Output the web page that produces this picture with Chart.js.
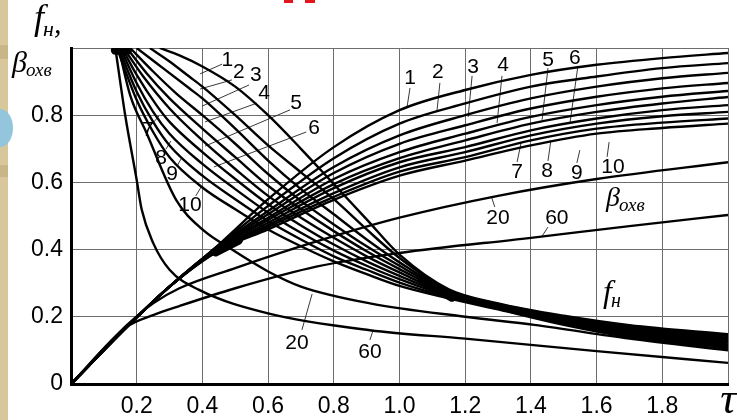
<!DOCTYPE html>
<html>
<head>
<meta charset="utf-8">
<script src="https://cdn.jsdelivr.net/npm/chart.js@4.4.1/dist/chart.umd.min.js"></script>
<style>
  html, body { margin: 0; padding: 0; background: #fff; }
</style>
</head>
<body>
<canvas id="myChart" width="737" height="420"></canvas>
<script>
// f_H curves 1..10 (falling) as [tau, value]
const fH1 = [[0.27,1.0],[0.33,0.978],[0.4,0.945],[0.5,0.885],[0.6,0.80],[0.7,0.70],[0.8,0.595],[0.9,0.49],[1.0,0.385],[1.15,0.282],[1.3,0.24],[1.5,0.203],[1.7,0.175],[2.0,0.148]];
const fH2 = [[0.24,1.0],[0.3,0.96],[0.36,0.915],[0.4,0.885],[0.5,0.80],[0.6,0.71],[0.7,0.63],[0.8,0.55],[0.9,0.46],[1.0,0.375],[1.15,0.279],[1.3,0.238],[1.5,0.2],[1.7,0.171],[2.0,0.143]];
const fH3 = [[0.2,1.0],[0.28,0.94],[0.36,0.88],[0.4,0.85],[0.5,0.76],[0.6,0.665],[0.7,0.58],[0.8,0.505],[0.9,0.43],[1.0,0.362],[1.15,0.276],[1.3,0.236],[1.5,0.197],[1.7,0.167],[2.0,0.138]];
const fH4 = [[0.18,1.0],[0.25,0.93],[0.32,0.865],[0.4,0.80],[0.5,0.715],[0.6,0.625],[0.7,0.545],[0.8,0.475],[0.9,0.41],[1.0,0.352],[1.15,0.273],[1.3,0.234],[1.5,0.194],[1.7,0.163],[2.0,0.133]];
const fH5 = [[0.17,1.0],[0.23,0.925],[0.3,0.85],[0.4,0.76],[0.5,0.675],[0.6,0.59],[0.7,0.52],[0.8,0.455],[0.9,0.395],[1.0,0.342],[1.15,0.27],[1.3,0.232],[1.5,0.191],[1.7,0.159],[2.0,0.128]];
const fH6 = [[0.16,1.0],[0.22,0.915],[0.3,0.82],[0.4,0.725],[0.5,0.64],[0.6,0.56],[0.7,0.495],[0.8,0.435],[0.9,0.38],[1.0,0.332],[1.15,0.267],[1.3,0.23],[1.5,0.188],[1.7,0.155],[2.0,0.123]];
const fH7 = [[0.155,1.0],[0.2,0.92],[0.26,0.83],[0.3,0.78],[0.4,0.69],[0.5,0.61],[0.6,0.535],[0.7,0.472],[0.8,0.415],[0.9,0.365],[1.0,0.322],[1.15,0.264],[1.3,0.228],[1.5,0.185],[1.7,0.151],[2.0,0.118]];
const fH8 = [[0.15,1.0],[0.2,0.895],[0.25,0.81],[0.3,0.745],[0.4,0.655],[0.5,0.58],[0.6,0.51],[0.7,0.45],[0.8,0.397],[0.9,0.352],[1.0,0.312],[1.15,0.261],[1.3,0.226],[1.5,0.182],[1.7,0.147],[2.0,0.113]];
const fH9 = [[0.145,1.0],[0.2,0.87],[0.25,0.78],[0.3,0.71],[0.4,0.62],[0.5,0.55],[0.6,0.485],[0.7,0.43],[0.8,0.38],[0.9,0.34],[1.0,0.302],[1.15,0.258],[1.3,0.224],[1.5,0.179],[1.7,0.143],[2.0,0.108]];
const fH10 = [[0.14,1.0],[0.2,0.845],[0.25,0.75],[0.3,0.675],[0.4,0.585],[0.5,0.52],[0.6,0.46],[0.7,0.41],[0.8,0.365],[0.9,0.327],[1.0,0.292],[1.15,0.255],[1.3,0.222],[1.5,0.176],[1.7,0.139],[2.0,0.103]];
const fH20 = [[0.145,1.0],[0.18,0.86],[0.23,0.747],[0.32,0.548],[0.4,0.46],[0.49,0.40],[0.6,0.335],[0.7,0.29],[0.91,0.24],[1.2,0.2],[1.41,0.176],[1.7,0.135],[2.0,0.10]];
const fH60 = [[0.135,1.0],[0.165,0.8],[0.2,0.607],[0.215,0.52],[0.25,0.42],[0.3,0.34],[0.39,0.28],[0.6,0.21],[0.91,0.16],[1.2,0.135],[1.6,0.098],[2.0,0.063]];

// beta curves 1..10 (rising) share these tau values
const betaX = [0, 0.17, 0.3, 0.45, 0.6, 0.8, 1.0, 1.2, 1.4, 1.6, 1.8, 2.0];
const beta1 = [0, 0.17, 0.29, 0.415, 0.55, 0.705, 0.815, 0.875, 0.92, 0.95, 0.97, 0.985];
const beta2 = [0, 0.17, 0.29, 0.413, 0.53, 0.672, 0.775, 0.835, 0.885, 0.915, 0.94, 0.955];
const beta3 = [0, 0.17, 0.29, 0.411, 0.515, 0.646, 0.74, 0.80, 0.85, 0.885, 0.91, 0.926];
const beta4 = [0, 0.17, 0.29, 0.409, 0.505, 0.628, 0.715, 0.77, 0.82, 0.855, 0.88, 0.896];
const beta5 = [0, 0.17, 0.29, 0.407, 0.495, 0.61, 0.69, 0.745, 0.795, 0.83, 0.855, 0.872];
const beta6 = [0, 0.17, 0.29, 0.405, 0.488, 0.595, 0.672, 0.725, 0.775, 0.81, 0.835, 0.854];
const beta7 = [0, 0.17, 0.29, 0.403, 0.48, 0.583, 0.66, 0.705, 0.755, 0.79, 0.815, 0.83];
const beta8 = [0, 0.17, 0.29, 0.401, 0.473, 0.568, 0.645, 0.69, 0.74, 0.775, 0.797, 0.81];
const beta9 = [0, 0.17, 0.29, 0.399, 0.467, 0.557, 0.632, 0.675, 0.725, 0.76, 0.778, 0.79];
const beta10 = [0, 0.17, 0.29, 0.397, 0.46, 0.548, 0.62, 0.665, 0.71, 0.745, 0.762, 0.775];
const beta20 = [[0,0],[0.17,0.175],[0.25,0.24],[0.33,0.285],[0.5,0.345],[0.75,0.425],[1.0,0.495],[1.3,0.56],[1.6,0.61],[2.0,0.66]];
const beta60 = [[0,0],[0.17,0.17],[0.25,0.205],[0.33,0.232],[0.5,0.285],[0.75,0.35],[1.0,0.39],[1.4,0.435],[1.7,0.47],[2.0,0.503]];

// thick knots where the families bunch together
const knotTop = [[0.135,0.993],[0.172,0.993]];
const knotBeta = [[0.44,0.393],[0.51,0.428]];
const knotF = [[1.07,0.31],[1.16,0.258]];

// curve numbers and their leader lines
const fTags = ['1','2','3','4','5','6','7','8','9','10'];
const fTagAt = [[0.476,0.964],[0.511,0.929],[0.563,0.920],[0.588,0.866],[0.685,0.836],[0.740,0.762],[0.234,0.756],[0.274,0.673],[0.308,0.625],[0.362,0.533]];
const fLeaders = [
  [[0.460,0.952],[0.393,0.923]], [[0.490,0.905],[0.393,0.878]], [[0.542,0.890],[0.399,0.827]],
  [[0.566,0.836],[0.408,0.780]], [[0.667,0.816],[0.408,0.708]], [[0.716,0.750],[0.435,0.646]],
  [[0.247,0.774],[0.268,0.798]], [[0.289,0.699],[0.304,0.723]], [[0.323,0.649],[0.335,0.670]],
  [[0.380,0.560],[0.396,0.586]]
];
const bTags = ['1','2','3','4','5','6','7','8','9','10'];
const bTagAt = [[1.032,0.911],[1.117,0.929],[1.224,0.943],[1.315,0.949],[1.452,0.964],[1.534,0.970],[1.358,0.631],[1.449,0.634],[1.540,0.628],[1.650,0.646]];
const bLeaders = [
  [[1.032,0.881],[1.023,0.824]], [[1.123,0.896],[1.114,0.812]], [[1.221,0.917],[1.209,0.795]],
  [[1.312,0.917],[1.297,0.777]], [[1.452,0.940],[1.434,0.786]], [[1.543,0.946],[1.519,0.777]],
  [[1.358,0.661],[1.370,0.717]], [[1.452,0.664],[1.461,0.726]], [[1.540,0.658],[1.549,0.696]],
  [[1.632,0.676],[1.638,0.720]]
];
const extraTags = ['20','60','20','60'];
const extraTagAt = [[1.30,0.494],[1.479,0.494],[0.688,0.122],[0.91,0.095]];
const extraLeaders = [
  [[1.29,0.527],[1.28,0.557]], [[1.452,0.467],[1.434,0.44]],
  [[0.703,0.161],[0.734,0.268]], [[0.91,0.131],[0.919,0.158]]
];

const xTicks = [0.2, 0.4, 0.6, 0.8, 1.0, 1.2, 1.4, 1.6, 1.8];
const yTicks = [0, 0.2, 0.4, 0.6, 0.8];

const toXY = pts => pts.map(p => ({ x: p[0], y: p[1] }));

function curve(pts, w) {
  return {
    data: toXY(pts),
    showLine: true,
    borderColor: "#000",
    borderWidth: w,
    pointRadius: 0,
    fill: false,
    cubicInterpolationMode: "monotone",
  };
}

function knot(pts) {
  return {
    data: toXY(pts),
    showLine: true,
    borderColor: "#000",
    borderWidth: 9,
    borderCapStyle: "round",
    pointRadius: 0,
    tension: 0,
  };
}

function leader(pts) {
  return {
    data: toXY(pts),
    showLine: true,
    borderColor: "#222",
    borderWidth: 0.9,
    pointRadius: 0,
    tension: 0,
    clip: false,
  };
}

const datasets = [];
[fH1, fH2, fH3, fH4, fH5, fH6, fH7, fH8, fH9, fH10, fH20, fH60].forEach(c => datasets.push(curve(c, 2.4)));
[beta1, beta2, beta3, beta4, beta5, beta6, beta7, beta8, beta9, beta10].forEach(v =>
  datasets.push(curve(betaX.map((x, i) => [x, v[i]]), 2.4))
);
datasets.push(curve(beta20, 2.4));
datasets.push(curve(beta60, 2.4));
[knotTop, knotBeta, knotF].forEach(k => datasets.push(knot(k)));
[...fLeaders, ...bLeaders, ...extraLeaders].forEach(l => datasets.push(leader(l)));

// text with a lowered index, e.g. f with н
function withIndex(c, x, y, main, idx, mainFont, idxFont, drop) {
  c.font = mainFont;
  c.fillText(main, x, y);
  const w = c.measureText(main).width;
  c.font = idxFont;
  c.fillText(idx, x + w - 1, y + drop);
  return x + w - 1 + c.measureText(idx).width;
}

const paper = {
  id: "paper",
  beforeDraw(chart) {
    const c = chart.ctx;
    c.save();
    c.fillStyle = "#fff";
    c.fillRect(0, 0, chart.width, chart.height);
    // edge of the slide behind the picture
    c.fillStyle = "#d8c79b";
    c.fillRect(0, 0, 8, chart.height);
    c.fillStyle = "#c9b688";
    c.fillRect(0, 45, 8, 14);
    c.fillRect(0, 165, 8, 12);
    c.fillStyle = "#93c6dd";
    c.beginPath();
    c.ellipse(0, 128, 13, 19, 0, 0, Math.PI * 2);
    c.fill();
    // bottom of the red heading above
    c.fillStyle = "#e3161b";
    c.fillRect(284, 0, 9, 3);
    c.fillRect(305, 0, 10, 3);
    c.restore();
  },
  afterDraw(chart) {
    const c = chart.ctx;
    const sx = chart.scales.x, sy = chart.scales.y;
    const px = p => [sx.getPixelForValue(p[0]), sy.getPixelForValue(p[1])];
    c.save();
    c.fillStyle = "#000";
    c.textAlign = "center";
    c.textBaseline = "middle";
    c.font = '21px "Liberation Sans", Arial, sans-serif';
    fTags.forEach((t, i) => { const [x, y] = px(fTagAt[i]); c.fillText(t, x, y); });
    bTags.forEach((t, i) => { const [x, y] = px(bTagAt[i]); c.fillText(t, x, y); });
    extraTags.forEach((t, i) => { const [x, y] = px(extraTagAt[i]); c.fillText(t, x, y); });

    c.textAlign = "left";
    c.textBaseline = "alphabetic";
    const serifI = s => "italic " + s + 'px "Liberation Serif", "DejaVu Serif", serif';
    // axis title
    const e = withIndex(c, 34, 29, "f", "н", serifI(36), serifI(22), 7);
    c.font = serifI(30);
    c.fillText(",", e, 33);
    withIndex(c, 12, 72, "β", "охв", serifI(30), serifI(19), 4);
    // curve family names
    withIndex(c, 606, 206, "β", "охв", serifI(28), serifI(19), 5);
    withIndex(c, 603, 302, "f", "н", serifI(32), serifI(20), 5);
    // tau at the end of the axis
    c.textAlign = "center";
    c.font = serifI(44);
    c.fillText("τ", sx.getPixelForValue(2.0), 413);
    c.restore();
  },
};

const ctx = document.getElementById("myChart");

new Chart(ctx, {
  type: "scatter",
  data: { datasets: datasets },
  options: {
    responsive: false,
    animation: false,
    events: [],
    layout: { padding: { top: 48, right: 9, left: 0, bottom: 0 } },
    plugins: { legend: { display: false }, tooltip: { enabled: false } },
    scales: {
      x: {
        type: "linear",
        min: 0,
        max: 2,
        afterFit: s => { s.height = 36; },
        afterBuildTicks: s => { s.ticks = [0, ...xTicks, 2].map(v => ({ value: v })); },
        ticks: {
          color: "#000",
          padding: 9,
          maxRotation: 0,
          autoSkip: false,
          font: { family: '"Liberation Sans", Arial, sans-serif', size: 23 },
          callback: v => (xTicks.includes(v) ? v.toFixed(1) : ""),
        },
        grid: { color: "#6d6d6d", lineWidth: 1, drawTicks: false },
        border: { color: "#000", width: 3 },
      },
      y: {
        min: 0,
        max: 1,
        afterFit: s => { s.width = 71; },
        afterBuildTicks: s => { s.ticks = [...yTicks, 1].map(v => ({ value: v })); },
        ticks: {
          color: "#000",
          padding: 8,
          font: { family: '"Liberation Sans", Arial, sans-serif', size: 23 },
          callback: v => (v === 0 ? "0" : yTicks.includes(v) ? v.toFixed(1) : ""),
        },
        grid: { color: "#6d6d6d", lineWidth: 1, drawTicks: false },
        border: { color: "#000", width: 3 },
      },
    },
  },
  plugins: [paper],
});
</script>
</body>
</html>
